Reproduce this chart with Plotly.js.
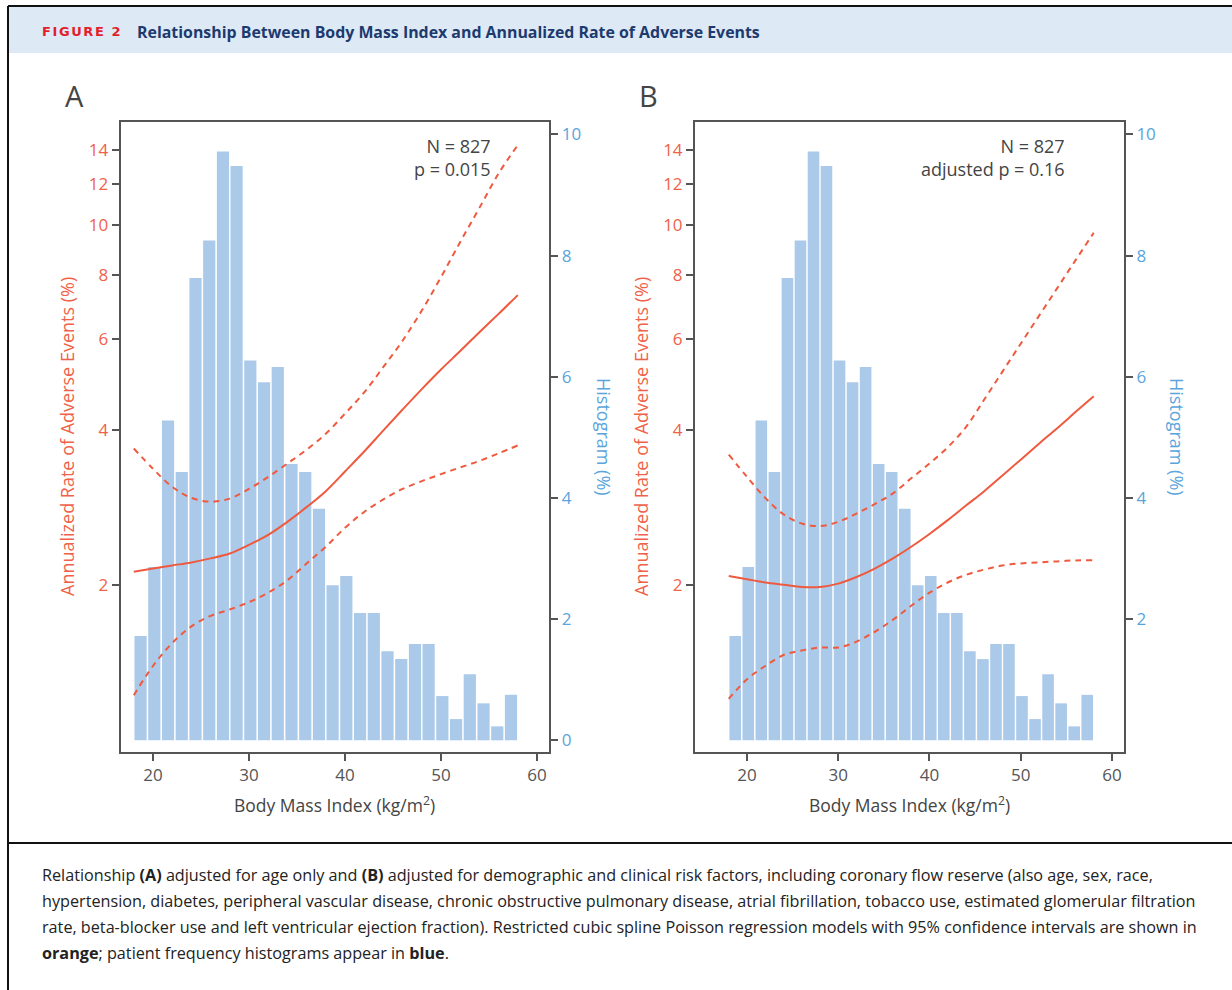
<!DOCTYPE html>
<html>
<head>
<meta charset="utf-8">
<script src="https://cdn.plot.ly/plotly-3.0.1.min.js"></script>
<style>
  html, body { margin: 0; padding: 0; background: #ffffff; }
  #chart { width: 1232px; height: 990px; }
</style>
</head>
<body>
<div id="chart"></div>
<script>
// ---------------- data ----------------
const binCenters = [18.71, 20.14, 21.57, 23.00, 24.43, 25.86, 27.29, 28.71, 30.14, 31.57,
                    33.00, 34.43, 35.86, 37.29, 38.71, 40.14, 41.57, 43.00, 44.43, 45.86,
                    47.29, 48.71, 50.14, 51.57, 53.00, 54.43, 55.86, 57.29];
const histPct = [1.72, 2.86, 5.28, 4.43, 7.63, 8.25, 9.72, 9.48, 6.27, 5.91,
                 6.16, 4.56, 4.43, 3.82, 2.56, 2.71, 2.10, 2.10, 1.47, 1.34,
                 1.59, 1.59, 0.73, 0.35, 1.09, 0.61, 0.23, 0.75];

const bmiGrid = [18, 20, 22, 24, 26, 28, 30, 32, 34, 36, 38, 40, 42, 44, 46, 48, 50, 52, 54, 56, 58];

const aFit   = [2.12, 2.15, 2.18, 2.21, 2.25, 2.30, 2.39, 2.50, 2.65, 2.83, 3.04, 3.32, 3.63, 3.99, 4.38, 4.80, 5.24, 5.69, 6.19, 6.72, 7.31];
const aUpper = [3.68, 3.36, 3.10, 2.95, 2.90, 2.94, 3.07, 3.24, 3.44, 3.66, 3.93, 4.30, 4.73, 5.30, 5.96, 6.82, 7.92, 9.27, 10.8, 12.6, 14.3];
const aLower = [1.22, 1.39, 1.54, 1.66, 1.74, 1.79, 1.85, 1.93, 2.04, 2.20, 2.37, 2.58, 2.77, 2.93, 3.07, 3.18, 3.28, 3.38, 3.48, 3.60, 3.73];

const bFit   = [2.08, 2.05, 2.02, 2.00, 1.98, 1.98, 2.01, 2.07, 2.15, 2.25, 2.37, 2.51, 2.67, 2.85, 3.04, 3.26, 3.50, 3.76, 4.03, 4.33, 4.65];
const bUpper = [3.58, 3.24, 2.95, 2.74, 2.63, 2.60, 2.65, 2.75, 2.87, 3.01, 3.22, 3.44, 3.70, 4.05, 4.58, 5.19, 5.88, 6.66, 7.54, 8.54, 9.66];
const bLower = [1.20, 1.31, 1.39, 1.46, 1.49, 1.51, 1.51, 1.55, 1.62, 1.71, 1.82, 1.93, 2.02, 2.09, 2.14, 2.18, 2.20, 2.21, 2.22, 2.23, 2.23];

const rateTicks = [2, 4, 6, 8, 10, 12, 14];
const histTicksA = [0, 2, 4, 6, 8, 10];
const histTicksB = [2, 4, 6, 8, 10];
const bmiTicks = [20, 30, 40, 50, 60];

// ---------------- styles ----------------
const W = 1232, H = 990;
const px = x => x / W;
const py = y => 1 - y / H;

const ORANGE = '#ef5a3f';
const ORANGE_TXT = '#ef6249';
const BLUE_BAR = '#abc9e9';
const BLUE_TXT = '#5aa5dc';
const FRAME = '#555555';
const FONT = '"Open Sans", "Noto Sans", sans-serif';

function bars(xa, ya) {
  return { type: 'bar', x: binCenters, y: histPct, width: 1.27, xaxis: xa, yaxis: ya,
           marker: { color: BLUE_BAR, line: { width: 0 } }, hoverinfo: 'skip' };
}
function curve(y, xa, ya, dashed) {
  return { type: 'scatter', mode: 'lines', x: bmiGrid, y: y, xaxis: xa, yaxis: ya,
           line: { color: ORANGE, width: 2, shape: 'spline', smoothing: 1, dash: dashed ? '6px,5px' : 'solid' },
           hoverinfo: 'skip' };
}

const data = [
  bars('x', 'y'),
  curve(aUpper, 'x', 'y2', true),
  curve(aLower, 'x', 'y2', true),
  curve(aFit, 'x', 'y2', false),
  bars('x2', 'y3'),
  curve(bUpper, 'x2', 'y4', true),
  curve(bLower, 'x2', 'y4', true),
  curve(bFit, 'x2', 'y4', false)
];

const yDom = [py(752), py(121.7)];
const common = {
  showgrid: false, zeroline: false, showline: true, linecolor: FRAME, linewidth: 2,
  mirror: true, ticks: 'outside', ticklen: 7, tickwidth: 2, tickcolor: FRAME
};

function xAxis(dom, range, anchor) {
  return Object.assign({}, common, {
    domain: dom, range: range, anchor: anchor, tickmode: 'array', tickvals: bmiTicks,
    tickfont: { family: FONT, size: 17, color: '#555' }
  });
}
function histAxis(anchor, ticks) {
  return Object.assign({}, common, {
    domain: yDom, range: [-0.193, 10.21], anchor: anchor, side: 'right',
    tickmode: 'array', tickvals: ticks, tickfont: { family: FONT, size: 17, color: BLUE_TXT }
  });
}
function rateAxis(anchor, over) {
  return Object.assign({}, common, {
    type: 'log', range: [-0.0241, 1.2009], anchor: anchor, overlaying: over, side: 'left',
    tickmode: 'array', tickvals: rateTicks, tickfont: { family: FONT, size: 17, color: ORANGE_TXT }
  });
}

const ann = [];
function txt(text, x, y, opts) {
  ann.push(Object.assign({ text: text, xref: 'paper', yref: 'paper', x: px(x), y: py(y),
    showarrow: false, xanchor: 'center', yanchor: 'middle',
    font: { family: FONT, size: 17, color: '#444' } }, opts || {}));
}

// header
txt('<span style="letter-spacing:1.6px">FIGURE 2</span>', 40, 31.5,
    { xanchor: 'left', font: { family: '"DejaVu Sans", sans-serif', size: 13, color: '#e31e2d', weight: 'bold' } });
txt('<b>Relationship Between Body Mass Index and Annualized Rate of Adverse Events</b>', 135, 31.5,
    { xanchor: 'left', font: { family: FONT, size: 15.9, color: '#1d3a6e' } });

// panel letters
txt('A', 74, 96, { font: { family: FONT, size: 29, color: '#444' } });
txt('B', 648, 96, { font: { family: FONT, size: 29, color: '#444' } });

// stats
txt('N = 827<br>p = 0.015', 493, 157.5, { xanchor: 'right', align: 'right', font: { family: FONT, size: 18, color: '#444' } });
txt('N = 827<br>adjusted p = 0.16', 1067, 157.5, { xanchor: 'right', align: 'right', font: { family: FONT, size: 18, color: '#444' } });

// axis titles
const rateTitle = 'Annualized Rate of Adverse Events (%)';
const histTitle = 'Histogram (%)';
const bmiTitle = 'Body Mass Index (kg/m<sup>2</sup>)';
txt(rateTitle, 67, 437, { textangle: -90, font: { family: FONT, size: 18, color: ORANGE_TXT } });
txt(rateTitle, 641, 437, { textangle: -90, font: { family: FONT, size: 18, color: ORANGE_TXT } });
txt(histTitle, 604, 437, { textangle: 90, font: { family: FONT, size: 18, color: BLUE_TXT } });
txt(histTitle, 1177, 437, { textangle: 90, font: { family: FONT, size: 18, color: BLUE_TXT } });
txt(bmiTitle, 335, 804, { font: { family: FONT, size: 17.5, color: '#444' } });
txt(bmiTitle, 909.5, 804, { font: { family: FONT, size: 17.5, color: '#444' } });

// caption
const capLines = [
  'Relationship <b>(A)</b> adjusted for age only and <b>(B)</b> adjusted for demographic and clinical risk factors, including coronary flow reserve (also age, sex, race,',
  'hypertension, diabetes, peripheral vascular disease, chronic obstructive pulmonary disease, atrial fibrillation, tobacco use, estimated glomerular filtration',
  'rate, beta-blocker use and left ventricular ejection fraction). Restricted cubic spline Poisson regression models with 95% confidence intervals are shown in',
  '<b>orange</b>; patient frequency histograms appear in <b>blue</b>.'
];
const capY = [875, 901, 927, 953];
capLines.forEach((l, i) => txt(l, 40, capY[i], { xanchor: 'left', font: { family: FONT, size: 16.2, color: '#222' } }));

const shapes = [
  { type: 'rect', xref: 'paper', yref: 'paper', x0: px(8), x1: 1, y0: py(53), y1: py(6), fillcolor: '#dde9f5', line: { width: 0 }, layer: 'below' },
  { type: 'line', xref: 'paper', yref: 'paper', x0: px(8), x1: 1, y0: py(6), y1: py(6), line: { color: '#111', width: 2 } },
  { type: 'line', xref: 'paper', yref: 'paper', x0: px(8), x1: px(8), y0: py(6), y1: 0, line: { color: '#111', width: 2 } },
  { type: 'line', xref: 'paper', yref: 'paper', x0: px(8), x1: 1, y0: py(843), y1: py(843), line: { color: '#111', width: 2 } }
];

const layout = {
  width: W, height: H, margin: { l: 0, r: 0, t: 0, b: 0 },
  paper_bgcolor: '#ffffff', plot_bgcolor: 'rgba(0,0,0,0)', showlegend: false,
  font: { family: FONT, color: '#444' },
  xaxis: xAxis([px(120.7), px(549.3)], [16.64, 61.28], 'y'),
  yaxis: histAxis('x', histTicksA),
  yaxis2: rateAxis('x', 'y'),
  xaxis2: xAxis([px(695), px(1124)], [14.30, 61.32], 'y3'),
  yaxis3: histAxis('x2', histTicksB),
  yaxis4: rateAxis('x2', 'y3'),
  annotations: ann,
  shapes: shapes
};

Plotly.newPlot('chart', data, layout, { displayModeBar: false, staticPlot: true });
</script>
</body>
</html>
